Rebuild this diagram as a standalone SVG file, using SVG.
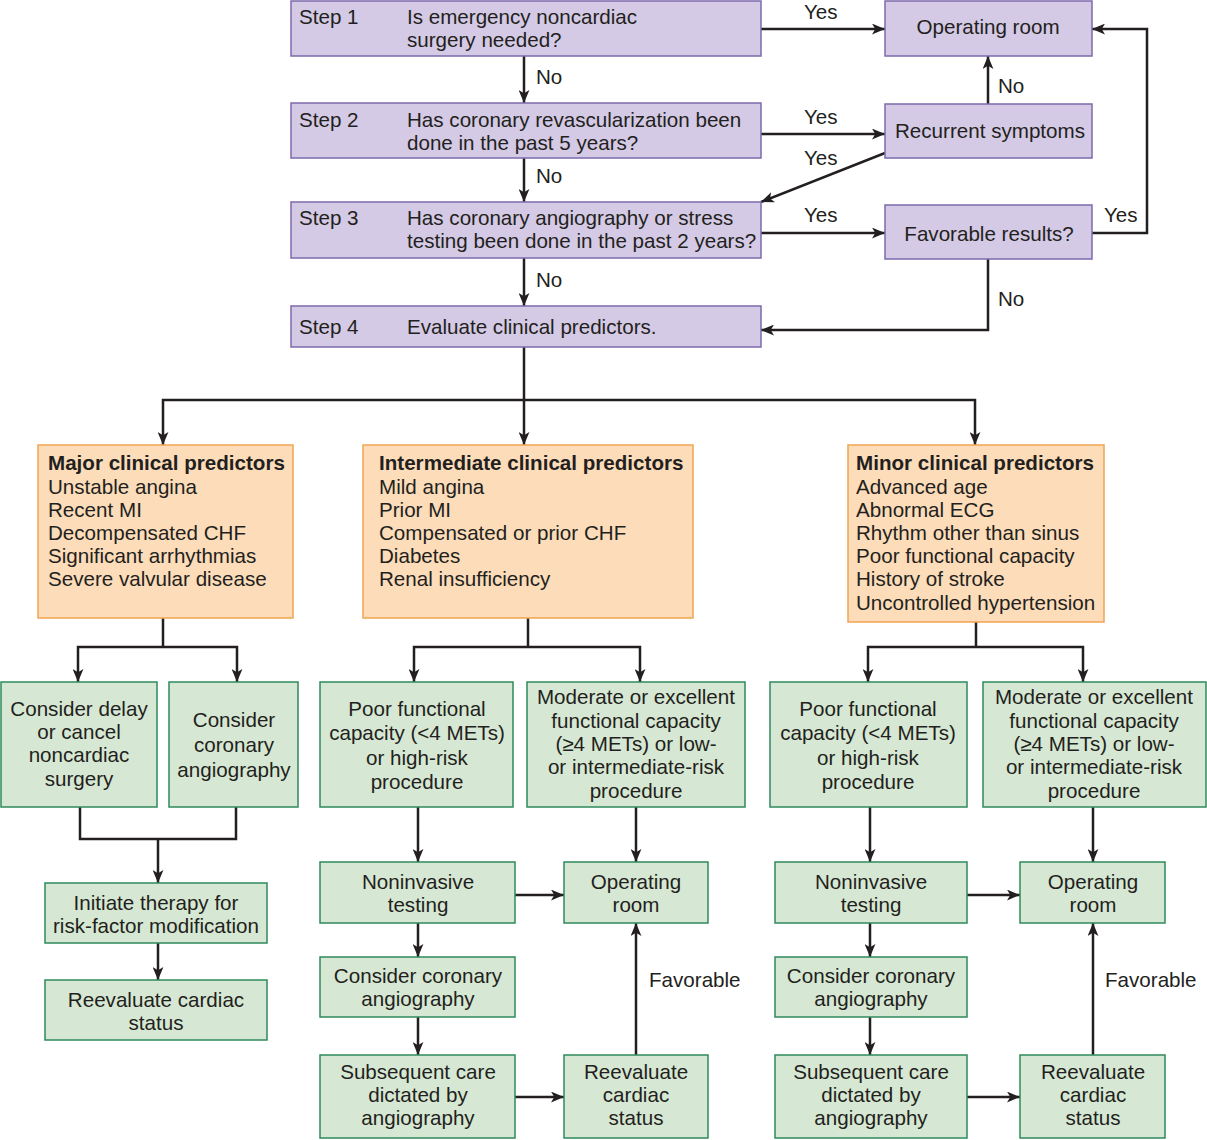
<svg xmlns="http://www.w3.org/2000/svg" width="1207" height="1140" viewBox="0 0 1207 1140">
<style>
text{font-family:"Liberation Sans",Arial,sans-serif;font-size:20.6px;fill:#231f20}
.c{text-anchor:middle}
.b{font-weight:bold}
.p{fill:#d4cae5;stroke:#7d6aac;stroke-width:1.5}
.o{fill:#fcdcb9;stroke:#f0a552;stroke-width:1.5}
.g{fill:#d6e8d3;stroke:#2f8a5c;stroke-width:1.5}
.l{fill:none;stroke:#231f20;stroke-width:2.5}
.a{marker-end:url(#ah)}
</style>
<defs>
<marker id="ah" viewBox="0 0 12 10" markerWidth="13" markerHeight="11" refX="12" refY="5" orient="auto" markerUnits="userSpaceOnUse">
<path d="M0,0 L12,5 L0,10 L3,5 Z" fill="#231f20"/>
</marker>
</defs>
<rect width="1207" height="1140" fill="#fff"/>
<g id="connectors">
<path class="l a" d="M761,29 H885"/>
<path class="l a" d="M524,56 V103"/>
<path class="l a" d="M761,134 H885"/>
<path class="l a" d="M988,104 V56"/>
<path class="l a" d="M885,153 L761,202"/>
<path class="l a" d="M524,158 V202"/>
<path class="l a" d="M761,233 H885"/>
<path class="l a" d="M1092,233 H1147 V29 H1092"/>
<path class="l a" d="M988,259 V330 H761"/>
<path class="l a" d="M524,258 V306"/>
<path class="l a" d="M524,347 V445"/>
<path class="l a" d="M524,400 H163 V445"/>
<path class="l a" d="M524,400 H975 V445"/>
<path class="l" d="M163,618 V647"/>
<path class="l a" d="M163,647 H78 V682"/>
<path class="l a" d="M163,647 H237 V682"/>
<path class="l" d="M80,807 V839 H236 V807"/>
<path class="l a" d="M158,839 V883"/>
<path class="l a" d="M158,943 V980"/>
<path class="l" d="M528,618 V647"/>
<path class="l a" d="M528,647 H414 V682"/>
<path class="l a" d="M528,647 H640 V682"/>
<path class="l a" d="M418,807 V862"/>
<path class="l a" d="M636,807 V862"/>
<path class="l a" d="M515,895 H564"/>
<path class="l a" d="M418,923 V957"/>
<path class="l a" d="M418,1017 V1055"/>
<path class="l a" d="M515,1097 H564"/>
<path class="l a" d="M636,1055 V923"/>
<path class="l" d="M976,622 V647"/>
<path class="l a" d="M976,647 H868 V682"/>
<path class="l a" d="M976,647 H1083 V682"/>
<path class="l a" d="M870,807 V862"/>
<path class="l a" d="M1093,807 V862"/>
<path class="l a" d="M967,895 H1020"/>
<path class="l a" d="M870,923 V957"/>
<path class="l a" d="M870,1017 V1055"/>
<path class="l a" d="M967,1097 H1020"/>
<path class="l a" d="M1093,1055 V923"/>
<text x="804" y="19">Yes</text>
<text x="804" y="124">Yes</text>
<text x="804" y="165">Yes</text>
<text x="804" y="222">Yes</text>
<text x="1104" y="222">Yes</text>
<text x="998" y="93">No</text>
<text x="998" y="306">No</text>
<text x="536" y="84">No</text>
<text x="536" y="183">No</text>
<text x="536" y="287">No</text>
<text x="649" y="987">Favorable</text>
<text x="1105" y="987">Favorable</text>
</g>
<g id="step1"><rect class="p" x="291" y="1" width="470" height="55"/><text x="299" y="24">Step 1</text><text x="407" y="24">Is emergency noncardiac</text><text x="407" y="47">surgery needed?</text></g>
<g id="step2"><rect class="p" x="291" y="103" width="470" height="55"/><text x="299" y="127">Step 2</text><text x="407" y="127">Has coronary revascularization been</text><text x="407" y="150">done in the past 5 years?</text></g>
<g id="step3"><rect class="p" x="291" y="202" width="470" height="56"/><text x="299" y="225">Step 3</text><text x="407" y="225">Has coronary angiography or stress</text><text x="407" y="248">testing been done in the past 2 years?</text></g>
<g id="step4"><rect class="p" x="291" y="306" width="470" height="41"/><text x="299" y="334">Step 4</text><text x="407" y="334">Evaluate clinical predictors.</text></g>
<g id="or-top"><rect class="p" x="885" y="1" width="207" height="55"/><text class="c" x="988" y="34">Operating room</text></g>
<g id="recurrent"><rect class="p" x="885" y="104" width="207" height="54"/><text class="c" x="990" y="138">Recurrent symptoms</text></g>
<g id="favorable"><rect class="p" x="885" y="205" width="207" height="54"/><text class="c" x="989" y="241">Favorable results?</text></g>
<g id="major"><rect class="o" x="38" y="445" width="255" height="173"/><text class="b" x="48" y="470">Major clinical predictors</text><text x="48" y="494">Unstable angina</text><text x="48" y="517">Recent MI</text><text x="48" y="540">Decompensated CHF</text><text x="48" y="563">Significant arrhythmias</text><text x="48" y="586">Severe valvular disease</text></g>
<g id="intermediate"><rect class="o" x="363" y="445" width="330" height="173"/><text class="b" x="379" y="470">Intermediate clinical predictors</text><text x="379" y="494">Mild angina</text><text x="379" y="517">Prior MI</text><text x="379" y="540">Compensated or prior CHF</text><text x="379" y="563">Diabetes</text><text x="379" y="586">Renal insufficiency</text></g>
<g id="minor"><rect class="o" x="848" y="445" width="256" height="177"/><text class="b" x="856" y="470">Minor clinical predictors</text><text x="856" y="494">Advanced age</text><text x="856" y="517">Abnormal ECG</text><text x="856" y="540">Rhythm other than sinus</text><text x="856" y="563">Poor functional capacity</text><text x="856" y="586">History of stroke</text><text x="856" y="610">Uncontrolled hypertension</text></g>
<g id="delay"><rect class="g" x="1" y="682" width="156" height="125"/><text class="c" x="79" y="716">Consider delay</text><text class="c" x="79" y="739">or cancel</text><text class="c" x="79" y="762">noncardiac</text><text class="c" x="79" y="786">surgery</text></g>
<g id="cor1"><rect class="g" x="169" y="682" width="129" height="125"/><text class="c" x="234" y="727">Consider</text><text class="c" x="234" y="752">coronary</text><text class="c" x="234" y="777">angiography</text></g>
<g id="initiate"><rect class="g" x="45" y="883" width="222" height="60"/><text class="c" x="156" y="910">Initiate therapy for</text><text class="c" x="156" y="933">risk-factor modification</text></g>
<g id="reeval1"><rect class="g" x="45" y="980" width="222" height="60"/><text class="c" x="156" y="1007">Reevaluate cardiac</text><text class="c" x="156" y="1030">status</text></g>
<g id="poor2"><rect class="g" x="320" y="682" width="193" height="125"/><text class="c" x="417" y="716">Poor functional</text><text class="c" x="417" y="740">capacity (&lt;4 METs)</text><text class="c" x="417" y="765">or high-risk</text><text class="c" x="417" y="789">procedure</text></g>
<g id="mod2"><rect class="g" x="527" y="682" width="218" height="125"/><text class="c" x="636" y="704">Moderate or excellent</text><text class="c" x="636" y="728">functional capacity</text><text class="c" x="636" y="751">(≥4 METs) or low-</text><text class="c" x="636" y="774">or intermediate-risk</text><text class="c" x="636" y="798">procedure</text></g>
<g id="nonin2"><rect class="g" x="320" y="862" width="195" height="61"/><text class="c" x="418" y="889">Noninvasive</text><text class="c" x="418" y="912">testing</text></g>
<g id="or2"><rect class="g" x="564" y="862" width="144" height="61"/><text class="c" x="636" y="889">Operating</text><text class="c" x="636" y="912">room</text></g>
<g id="cor2"><rect class="g" x="320" y="957" width="195" height="60"/><text class="c" x="418" y="983">Consider coronary</text><text class="c" x="418" y="1006">angiography</text></g>
<g id="sub2"><rect class="g" x="320" y="1055" width="195" height="83"/><text class="c" x="418" y="1079">Subsequent care</text><text class="c" x="418" y="1102">dictated by</text><text class="c" x="418" y="1125">angiography</text></g>
<g id="reeval2"><rect class="g" x="564" y="1055" width="144" height="83"/><text class="c" x="636" y="1079">Reevaluate</text><text class="c" x="636" y="1102">cardiac</text><text class="c" x="636" y="1125">status</text></g>
<g id="poor3"><rect class="g" x="770" y="682" width="197" height="125"/><text class="c" x="868" y="716">Poor functional</text><text class="c" x="868" y="740">capacity (&lt;4 METs)</text><text class="c" x="868" y="765">or high-risk</text><text class="c" x="868" y="789">procedure</text></g>
<g id="mod3"><rect class="g" x="983" y="682" width="223" height="125"/><text class="c" x="1094" y="704">Moderate or excellent</text><text class="c" x="1094" y="728">functional capacity</text><text class="c" x="1094" y="751">(≥4 METs) or low-</text><text class="c" x="1094" y="774">or intermediate-risk</text><text class="c" x="1094" y="798">procedure</text></g>
<g id="nonin3"><rect class="g" x="775" y="862" width="192" height="61"/><text class="c" x="871" y="889">Noninvasive</text><text class="c" x="871" y="912">testing</text></g>
<g id="or3"><rect class="g" x="1020" y="862" width="145" height="61"/><text class="c" x="1093" y="889">Operating</text><text class="c" x="1093" y="912">room</text></g>
<g id="cor3"><rect class="g" x="775" y="957" width="192" height="60"/><text class="c" x="871" y="983">Consider coronary</text><text class="c" x="871" y="1006">angiography</text></g>
<g id="sub3"><rect class="g" x="775" y="1055" width="192" height="83"/><text class="c" x="871" y="1079">Subsequent care</text><text class="c" x="871" y="1102">dictated by</text><text class="c" x="871" y="1125">angiography</text></g>
<g id="reeval3"><rect class="g" x="1020" y="1055" width="145" height="83"/><text class="c" x="1093" y="1079">Reevaluate</text><text class="c" x="1093" y="1102">cardiac</text><text class="c" x="1093" y="1125">status</text></g>
</svg>
